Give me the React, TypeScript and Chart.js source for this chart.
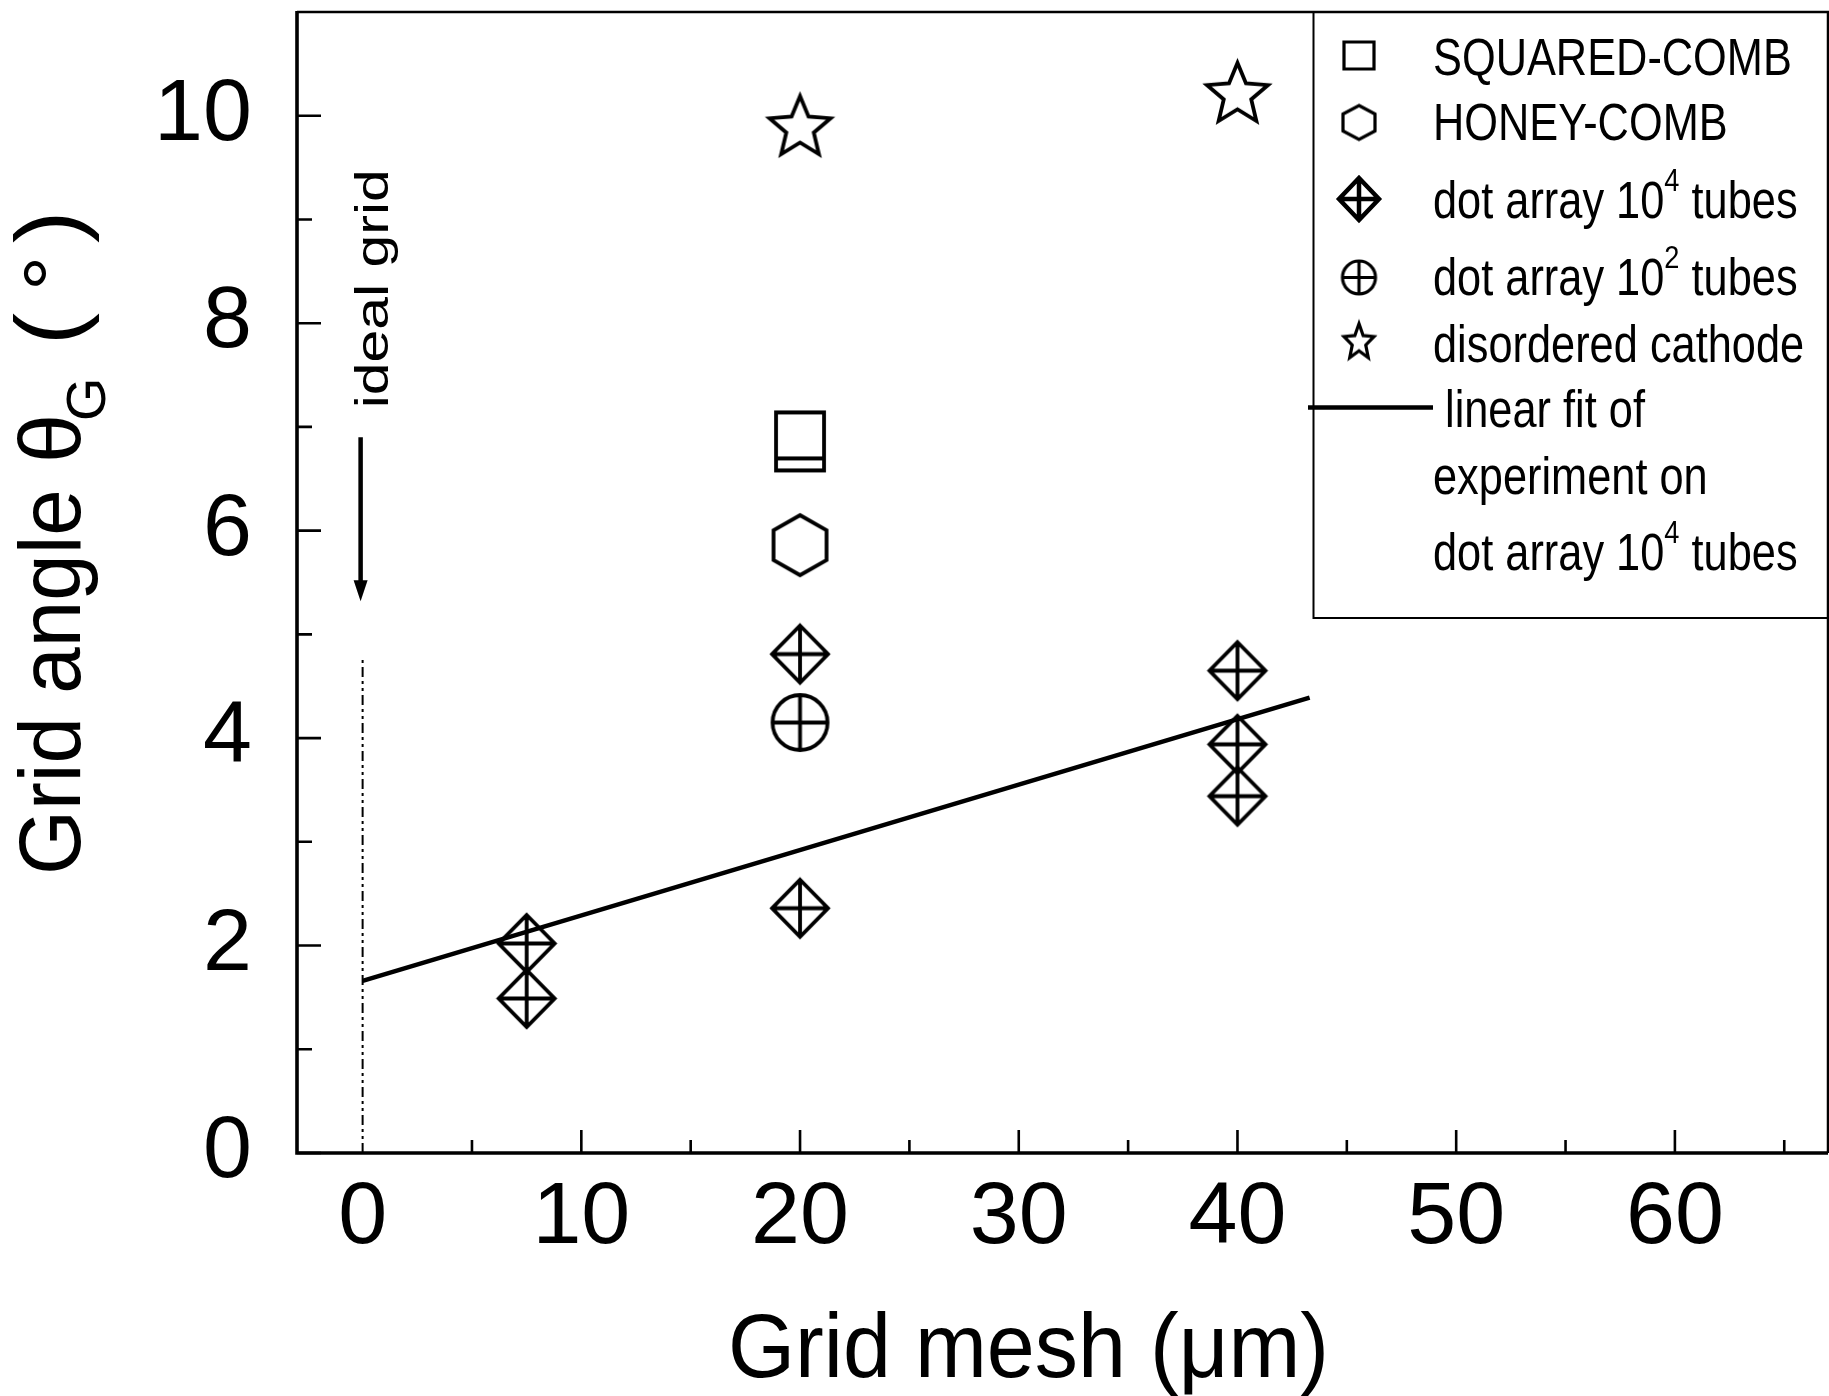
import { useEffect, useRef } from 'react';
import { Chart, registerables } from 'chart.js';
Chart.register(...registerables);

const FONT = '"Liberation Sans", Arial, Helvetica, sans-serif';

// ---- axes ----
const xMajorTicks = [0, 10, 20, 30, 40, 50, 60];
const xMinorTicks = [5, 15, 25, 35, 45, 55, 65];
const yMajorTicks = [0, 2, 4, 6, 8, 10];
const yMinorTicks = [1, 3, 5, 7, 9];
const xLimits = [-3, 67];
const yLimits = [0, 11];

// ---- series ----
const squaredComb = [{ x: 20, y: 6.86 }];
const honeyComb = [{ x: 20, y: 5.86 }];
const dotArray1e4 = [
  { x: 7.5, y: 2.02 },
  { x: 7.5, y: 1.49 },
  { x: 20, y: 4.81 },
  { x: 20, y: 2.36 },
  { x: 40, y: 4.65 },
  { x: 40, y: 3.94 },
  { x: 40, y: 3.44 },
];
const dotArray1e2 = [{ x: 20, y: 4.15 }];
const disorderedCathode = [
  { x: 20, y: 9.91 },
  { x: 40, y: 10.23 },
];
const linearFit = [
  { x: 0, y: 1.66 },
  { x: 43.3, y: 4.39 },
];
const idealGridLine = [
  { x: 0, y: 0 },
  { x: 0, y: 4.76 },
];
const idealGridArrow = [
  { x: 0, y: 6.9 },
  { x: 0, y: 5.32 },
];
const idealGridLabelStart = { x: 0, y: 7.18 };

// ---- texts ----
const xTitle = 'Grid mesh (\u03bcm)';
const yTitleParts = ['Grid angle ', '\u03b8', 'G', '(', '\u00b0', ')'];
const idealGridText = 'ideal grid';
type Part = { t: string; sup?: boolean };
const legendRows: Part[][] = [
  [{ t: 'SQUARED-COMB' }],
  [{ t: 'HONEY-COMB' }],
  [{ t: 'dot array 10' }, { t: '4', sup: true }, { t: ' tubes' }],
  [{ t: 'dot array 10' }, { t: '2', sup: true }, { t: ' tubes' }],
  [{ t: 'disordered cathode' }],
  [{ t: 'linear fit of' }],
  [{ t: 'experiment on' }],
  [{ t: 'dot array 10' }, { t: '4', sup: true }, { t: ' tubes' }],
];
const legendSymbols = ['square', 'hex', 'diamond', 'circle', 'star', 'line', '', ''];

function makeMarker(kind: string, w: number, h: number, lw: number): HTMLCanvasElement {
  const pad = Math.ceil(lw) + 2;
  const c = document.createElement('canvas');
  c.width = Math.ceil(w + 2 * pad);
  c.height = Math.ceil(h + 2 * pad);
  const ctx = c.getContext('2d')!;
  ctx.strokeStyle = '#000';
  ctx.lineWidth = lw;
  ctx.lineJoin = 'miter';
  const cx = c.width / 2;
  const cy = c.height / 2;
  ctx.beginPath();
  if (kind === 'square') {
    ctx.rect(cx - w / 2, cy - h / 2, w, h);
  } else if (kind === 'squareStripe') {
    ctx.rect(cx - w / 2, cy - h / 2, w, h);
    ctx.moveTo(cx - w / 2, cy + h / 2 - 12);
    ctx.lineTo(cx + w / 2, cy + h / 2 - 12);
  } else if (kind === 'hex') {
    for (let i = 0; i < 6; i++) {
      const a = (-90 + 60 * i) * (Math.PI / 180);
      const px = cx + ((w / 2) * Math.cos(a)) / Math.cos(Math.PI / 6);
      const py = cy + (h / 2) * Math.sin(a);
      if (i === 0) ctx.moveTo(px, py);
      else ctx.lineTo(px, py);
    }
    ctx.closePath();
  } else if (kind === 'diamond') {
    ctx.moveTo(cx, cy - h / 2);
    ctx.lineTo(cx + w / 2, cy);
    ctx.lineTo(cx, cy + h / 2);
    ctx.lineTo(cx - w / 2, cy);
    ctx.closePath();
    ctx.moveTo(cx, cy - h / 2);
    ctx.lineTo(cx, cy + h / 2);
    ctx.moveTo(cx - w / 2, cy);
    ctx.lineTo(cx + w / 2, cy);
  } else if (kind === 'circle') {
    ctx.arc(cx, cy, w / 2, 0, Math.PI * 2);
    ctx.moveTo(cx, cy - w / 2);
    ctx.lineTo(cx, cy + w / 2);
    ctx.moveTo(cx - w / 2, cy);
    ctx.lineTo(cx + w / 2, cy);
  } else if (kind === 'star') {
    const R = h / 1.809;
    const r = R * 0.45;
    const scy = cy + 0.0955 * R;
    const sx = w / (1.902 * R);
    for (let i = 0; i < 10; i++) {
      const a = (-90 + 36 * i) * (Math.PI / 180);
      const rr = i % 2 === 0 ? R : r;
      const px = cx + rr * Math.cos(a) * sx;
      const py = scy + rr * Math.sin(a);
      if (i === 0) ctx.moveTo(px, py);
      else ctx.lineTo(px, py);
    }
    ctx.closePath();
  }
  ctx.stroke();
  return c;
}

export default function App() {
  const ref = useRef<HTMLCanvasElement | null>(null);

  useEffect(() => {
    const canvas = ref.current;
    if (!canvas) return;

    const LW = 3.8;
    const mSquare = makeMarker('squareStripe', 48, 58, LW);
    const mHex = makeMarker('hex', 53, 60, LW);
    const mDiamond = makeMarker('diamond', 56, 57, LW);
    const mCircle = makeMarker('circle', 55, 55, LW);
    const mStar = makeMarker('star', 61, 58, LW);

    const lgMarkers: Record<string, HTMLCanvasElement> = {
      square: makeMarker('square', 30, 27, 3.2),
      hex: makeMarker('hex', 32, 34, 3.2),
      diamond: makeMarker('diamond', 40, 42, 4.5),
      circle: makeMarker('circle', 33, 33, 3.2),
      star: makeMarker('star', 30, 34, 3.2),
    };

    const drawParts = (
      ctx: CanvasRenderingContext2D,
      parts: Part[],
      x: number,
      y: number,
      size: number,
      supSize: number,
      supDy: number,
      sx: number
    ) => {
      let cx = x;
      for (const p of parts) {
        const s = p.sup ? supSize : size;
        ctx.font = `${s}px ${FONT}`;
        ctx.save();
        ctx.translate(cx, y + (p.sup ? supDy : 0));
        ctx.scale(sx, 1);
        ctx.fillText(p.t, 0, 0);
        ctx.restore();
        cx += ctx.measureText(p.t).width * sx;
      }
    };

    const decor = {
      id: 'decor',
      afterDatasetsDraw(chart: any) {
        const ctx: CanvasRenderingContext2D = chart.ctx;
        const xs = chart.scales.x;
        const ys = chart.scales.y;
        const a = chart.chartArea;
        ctx.save();
        ctx.strokeStyle = '#000';
        ctx.fillStyle = '#000';

        // frame
        ctx.lineWidth = 2.5;
        ctx.beginPath();
        ctx.moveTo(a.left, a.top);
        ctx.lineTo(a.right, a.top);
        ctx.lineTo(a.right, a.bottom);
        ctx.stroke();
        ctx.lineWidth = 3.6;
        ctx.beginPath();
        ctx.moveTo(a.left, a.top - 1);
        ctx.lineTo(a.left, a.bottom);
        ctx.lineTo(a.right, a.bottom);
        ctx.stroke();

        // ticks (inside)
        ctx.lineWidth = 2.6;
        ctx.beginPath();
        for (const v of xMajorTicks) {
          if (v === 0) continue;
          const px = xs.getPixelForValue(v);
          ctx.moveTo(px, a.bottom);
          ctx.lineTo(px, a.bottom - 23);
        }
        for (const v of xMinorTicks) {
          const px = xs.getPixelForValue(v);
          ctx.moveTo(px, a.bottom);
          ctx.lineTo(px, a.bottom - 13);
        }
        for (const v of yMajorTicks) {
          const py = ys.getPixelForValue(v);
          ctx.moveTo(a.left, py);
          ctx.lineTo(a.left + 24, py);
        }
        for (const v of yMinorTicks) {
          const py = ys.getPixelForValue(v);
          ctx.moveTo(a.left, py);
          ctx.lineTo(a.left + 15, py);
        }
        ctx.stroke();

        // ideal grid arrow
        const ax = xs.getPixelForValue(idealGridArrow[0].x) - 2;
        const ay0 = ys.getPixelForValue(idealGridArrow[0].y);
        const ay1 = ys.getPixelForValue(idealGridArrow[1].y);
        ctx.lineWidth = 4.5;
        ctx.beginPath();
        ctx.moveTo(ax, ay0);
        ctx.lineTo(ax, ay1 - 18);
        ctx.stroke();
        ctx.beginPath();
        ctx.moveTo(ax - 7, ay1 - 21);
        ctx.lineTo(ax + 7, ay1 - 21);
        ctx.lineTo(ax, ay1);
        ctx.closePath();
        ctx.fill();

        // ideal grid label
        {
          const lx = xs.getPixelForValue(idealGridLabelStart.x) + 25;
          const ly = ys.getPixelForValue(idealGridLabelStart.y);
          ctx.save();
          ctx.font = `56px ${FONT}`;
          const nat = ctx.measureText(idealGridText).width;
          ctx.translate(lx, ly);
          ctx.rotate(-Math.PI / 2);
          ctx.scale(239 / nat, 0.82);
          ctx.textBaseline = 'alphabetic';
          ctx.fillText(idealGridText, 0, 0);
          ctx.restore();
        }

        // legend box
        ctx.lineWidth = 2;
        ctx.beginPath();
        ctx.moveTo(1313.5, a.top);
        ctx.lineTo(1313.5, 618);
        ctx.lineTo(a.right, 618);
        ctx.stroke();

        const symX = 1359;
        const symY = [55.5, 122.5, 199, 277.5, 340.6, 407.6];
        const baselines = [75, 140, 218, 295, 362, 427, 494, 570];
        ctx.textBaseline = 'alphabetic';
        legendRows.forEach((row, i) => {
          const sym = legendSymbols[i];
          if (sym === 'line') {
            ctx.lineWidth = 4.5;
            ctx.beginPath();
            ctx.moveTo(1308, symY[i]);
            ctx.lineTo(1433, symY[i]);
            ctx.stroke();
          } else if (sym && lgMarkers[sym]) {
            const m = lgMarkers[sym];
            ctx.drawImage(m, symX - m.width / 2, symY[i] - m.height / 2);
          }
          const tx = sym === 'line' ? 1445 : 1433;
          drawParts(ctx, row, tx, baselines[i], 51, 32, -27, 0.85);
        });

        // x title
        {
          ctx.font = `91px ${FONT}`;
          const nat = ctx.measureText(xTitle).width;
          ctx.save();
          ctx.translate(728, 1377);
          ctx.scale(601 / nat, 1);
          ctx.fillText(xTitle, 0, 0);
          ctx.restore();
        }

        // y title (rotated, reading bottom to top)
        {
          const sizes = [88, 88, 56, 92, 80, 92];
          const origins = [0, 412, 454, 530, 584, 632];
          const sx = [0.95, 1, 1, 1.05, 1.1, 1.05];
          const dys = [0, 0, 25, 0, 0, 0];
          ctx.save();
          ctx.translate(80, 875);
          ctx.rotate(-Math.PI / 2);
          yTitleParts.forEach((t, i) => {
            ctx.font = `${sizes[i]}px ${FONT}`;
            ctx.save();
            ctx.translate(origins[i], dys[i]);
            ctx.scale(sx[i], 1);
            ctx.fillText(t, 0, 0);
            ctx.restore();
          });
          ctx.restore();
        }

        ctx.restore();
      },
    };

    const pointDs = (label: string, data: any[], img: HTMLCanvasElement) => ({
      label,
      data,
      pointStyle: img,
      pointRadius: 25,
      borderColor: '#000',
      backgroundColor: 'transparent',
      showLine: false,
    });

    const chart = new Chart(canvas, {
      type: 'scatter',
      data: {
        datasets: [
          {
            label: 'linear fit',
            data: linearFit,
            showLine: true,
            borderColor: '#000',
            borderWidth: 4.5,
            pointRadius: 0,
            fill: false,
          },
          {
            label: 'ideal grid',
            data: idealGridLine,
            showLine: true,
            borderColor: '#000',
            borderWidth: 2,
            borderDash: [10, 4, 3, 4, 3, 4],
            pointRadius: 0,
            fill: false,
          },
          pointDs('SQUARED-COMB', squaredComb, mSquare),
          pointDs('HONEY-COMB', honeyComb, mHex),
          pointDs('dot array 10^4 tubes', dotArray1e4, mDiamond),
          pointDs('dot array 10^2 tubes', dotArray1e2, mCircle),
          pointDs('disordered cathode', disorderedCathode, mStar),
        ] as any,
      },
      options: {
        animation: false,
        responsive: false,
        events: [],
        layout: { autoPadding: false, padding: { top: 12, right: 1, left: 0, bottom: 0 } },
        plugins: {
          legend: { display: false },
          tooltip: { enabled: false },
          title: { display: false },
        },
        scales: {
          x: {
            type: 'linear',
            min: xLimits[0],
            max: xLimits[1],
            grid: { display: false, drawTicks: false },
            border: { display: false },
            ticks: {
              font: { family: FONT, size: 88 },
              color: '#000',
              padding: 13,
              maxRotation: 0,
              autoSkip: false,
            },
            afterBuildTicks: (s: any) => {
              s.ticks = xMajorTicks.map((v) => ({ value: v }));
            },
            afterFit: (s: any) => {
              s.height = 243;
              s.paddingLeft = 0;
              s.paddingRight = 0;
            },
          },
          y: {
            type: 'linear',
            min: yLimits[0],
            max: yLimits[1],
            grid: { display: false, drawTicks: false },
            border: { display: false },
            ticks: {
              font: { family: FONT, size: 88 },
              color: '#000',
              padding: 45,
              autoSkip: false,
            },
            afterBuildTicks: (s: any) => {
              s.ticks = yMajorTicks.map((v) => ({ value: v }));
            },
            afterFit: (s: any) => {
              s.width = 297;
              s.paddingTop = 0;
              s.paddingBottom = 0;
            },
          },
        },
      } as any,
      plugins: [decor],
    });

    return () => chart.destroy();
  }, []);

  return (
    <div style={{ position: 'fixed', left: 0, top: 0, width: 1829, height: 1396, background: '#fff' }}>
      <canvas ref={ref} width={1829} height={1396} style={{ display: 'block', width: 1829, height: 1396 }} />
    </div>
  );
}
